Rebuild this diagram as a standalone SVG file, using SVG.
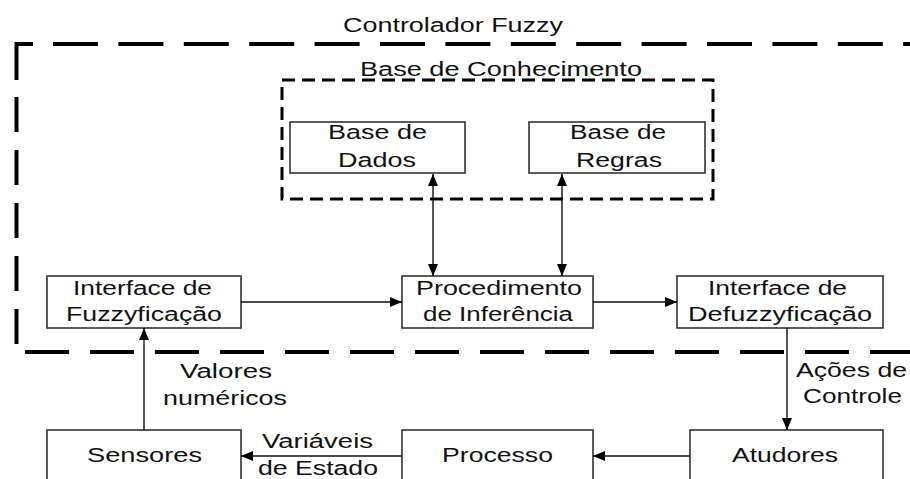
<svg xmlns="http://www.w3.org/2000/svg" width="910" height="479" viewBox="0 0 910 479">
<style>
text{font-family:"Liberation Sans",Arial,sans-serif;font-size:20px;fill:#111}
.box{fill:#fff;stroke:#333;stroke-width:1.6}
.con{stroke:#111;stroke-width:1.4;fill:none}
.outer{stroke:#000;stroke-width:4;fill:none}
.inner{stroke:#000;stroke-width:3;fill:none;stroke-dasharray:13 7}
</style>
<defs>
<marker id="ah" markerUnits="userSpaceOnUse" markerWidth="12" markerHeight="10" refX="12" refY="5" orient="auto-start-reverse">
<path d="M0,0 L12,5 L0,10 z" fill="#000"/>
</marker>
</defs>
<rect width="910" height="479" fill="#fff"/>
<g id="controlador-fuzzy">
<path class="outer" d="M16.5,80 V44 H33"/>
<path class="outer" d="M53,44 H920" stroke-dasharray="45 20.4"/>
<path class="outer" d="M16.5,97 V345" stroke-dasharray="35 18"/>
<path class="outer" d="M25,352 H920" stroke-dasharray="44 21"/>
<text x="343" y="32" textLength="220" lengthAdjust="spacingAndGlyphs">Controlador Fuzzy</text>
</g>
<g id="base-conhecimento">
<rect class="inner" x="282" y="80" width="431" height="119"/>
<text x="360" y="76" textLength="282" lengthAdjust="spacingAndGlyphs">Base de Conhecimento</text>
</g>
<g id="base-dados">
<rect class="box" x="290" y="122" width="175" height="51"/>
<text x="328" y="139" textLength="99" lengthAdjust="spacingAndGlyphs">Base de</text>
<text x="338" y="167" textLength="78" lengthAdjust="spacingAndGlyphs">Dados</text>
</g>
<g id="base-regras">
<rect class="box" x="529" y="122" width="176" height="51"/>
<text x="570" y="139" textLength="96" lengthAdjust="spacingAndGlyphs">Base de</text>
<text x="576" y="167" textLength="86" lengthAdjust="spacingAndGlyphs">Regras</text>
</g>
<g id="interface-fuzzyficacao">
<rect class="box" x="47" y="276" width="194" height="52"/>
<text x="73" y="295" textLength="139" lengthAdjust="spacingAndGlyphs">Interface de</text>
<text x="66" y="321" textLength="156" lengthAdjust="spacingAndGlyphs">Fuzzyficação</text>
</g>
<g id="procedimento-inferencia">
<rect class="box" x="402" y="276" width="191" height="52"/>
<text x="416" y="295" textLength="166" lengthAdjust="spacingAndGlyphs">Procedimento</text>
<text x="423" y="321" textLength="150" lengthAdjust="spacingAndGlyphs">de Inferência</text>
</g>
<g id="interface-defuzzyficacao">
<rect class="box" x="677" y="276" width="206" height="52"/>
<text x="708" y="295" textLength="139" lengthAdjust="spacingAndGlyphs">Interface de</text>
<text x="688" y="321" textLength="184" lengthAdjust="spacingAndGlyphs">Defuzzyficação</text>
</g>
<g id="sensores">
<rect class="box" x="47" y="430" width="194" height="70"/>
<text x="87" y="462" textLength="115" lengthAdjust="spacingAndGlyphs">Sensores</text>
</g>
<g id="processo">
<rect class="box" x="402" y="430" width="191" height="70"/>
<text x="442" y="462" textLength="111" lengthAdjust="spacingAndGlyphs">Processo</text>
</g>
<g id="atudores">
<rect class="box" x="690" y="430" width="193" height="70"/>
<text x="732" y="462" textLength="106" lengthAdjust="spacingAndGlyphs">Atudores</text>
</g>
<g id="connectors">
<line class="con" x1="433" y1="174" x2="433" y2="276" marker-start="url(#ah)" marker-end="url(#ah)"/>
<line class="con" x1="562" y1="174" x2="562" y2="276" marker-start="url(#ah)" marker-end="url(#ah)"/>
<line class="con" x1="241" y1="302" x2="402" y2="302" marker-end="url(#ah)"/>
<line class="con" x1="593" y1="302" x2="677" y2="302" marker-end="url(#ah)"/>
<line class="con" x1="787" y1="328" x2="787" y2="430" marker-end="url(#ah)"/>
<line class="con" x1="690" y1="456" x2="593" y2="456" marker-end="url(#ah)"/>
<line class="con" x1="402" y1="456" x2="241" y2="456" marker-end="url(#ah)"/>
<line class="con" x1="144" y1="430" x2="144" y2="328" marker-end="url(#ah)"/>
<text x="180" y="378" textLength="92" lengthAdjust="spacingAndGlyphs">Valores</text>
<text x="163" y="405" textLength="124" lengthAdjust="spacingAndGlyphs">numéricos</text>
<text x="262" y="448" textLength="111" lengthAdjust="spacingAndGlyphs">Variáveis</text>
<text x="258" y="475" textLength="120" lengthAdjust="spacingAndGlyphs">de Estado</text>
<text x="796" y="377" textLength="111" lengthAdjust="spacingAndGlyphs">Ações de</text>
<text x="803" y="403" textLength="99" lengthAdjust="spacingAndGlyphs">Controle</text>
</g>
</svg>
